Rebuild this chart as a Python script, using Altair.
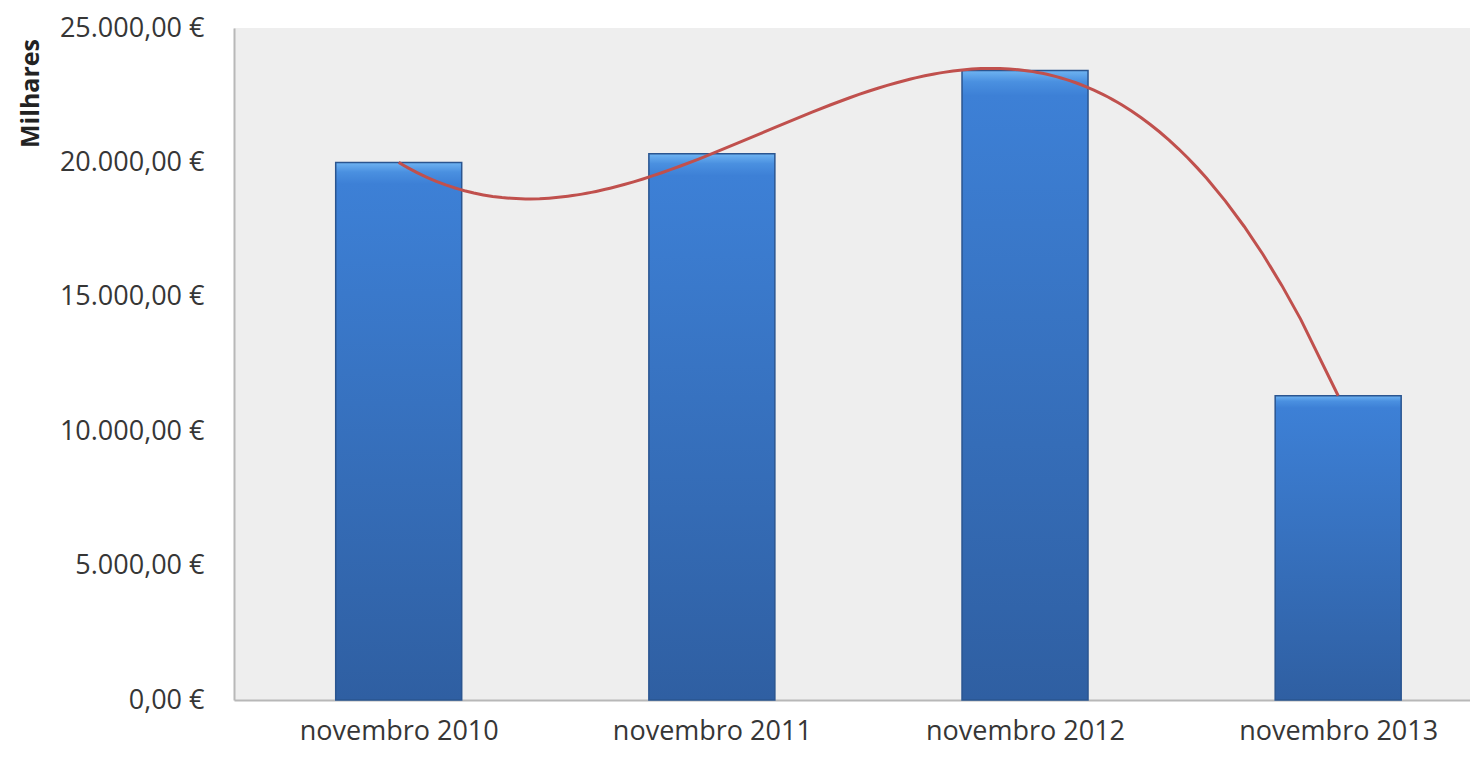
import altair as alt
import pandas as pd

categories = ["novembro 2010", "novembro 2011", "novembro 2012", "novembro 2013"]
values = [20000, 20320, 23420, 11320]
y_ticks = [0, 5000, 10000, 15000, 20000, 25000]

df = pd.DataFrame({"idx": list(range(len(categories))), "cat": categories, "valor": values})

label_expr = " : ".join(
    [f"datum.value == {i} ? '{c}'" for i, c in enumerate(categories)] + ["''"]
)
y_label_expr = ("replace(replace(replace(format(datum.value, ',.2f'), ',', '#'), '.', ','), '#', '.') + ' €'")

FONT = "Open Sans"
FS = 27

x = alt.X(
    "idx:Q",
    scale=alt.Scale(domain=[-0.51, 3.405], nice=False, zero=False),
    axis=alt.Axis(
        values=list(range(len(categories))),
        labelExpr=label_expr,
        title=None,
        ticks=False,
        grid=False,
        labelFont=FONT,
        labelFontSize=FS,
        labelColor="#363636",
        labelPadding=18,
        labelLimit=400,
        domainColor="#b8b8b8",
        domainWidth=2,
        labelFlush=False,
    ),
)

y = alt.Y(
    "valor:Q",
    scale=alt.Scale(domain=[0, 25000], nice=False),
    axis=alt.Axis(
        values=y_ticks,
        labelExpr=y_label_expr,
        title="Milhares",
        titleFont=FONT,
        titleFontSize=25,
        titleFontWeight="bold",
        titleColor="#222222",
        titleAngle=-90,
        titleAlign="center",
        titleBaseline="middle",
        titleX=-204,
        titleY=65,
        ticks=False,
        grid=False,
        labelFont=FONT,
        labelFontSize=FS,
        labelColor="#363636",
        labelPadding=30,
        labelLimit=400,
        domainColor="#b8b8b8",
        domainWidth=2,
    ),
)

gradient = alt.LinearGradient(
    gradient="linear",
    x1=0, x2=0, y1=0, y2=1,
    stops=[
        alt.GradientStop(offset=0, color="#6fb4f2"),
        alt.GradientStop(offset=0.018, color="#4a90e0"),
        alt.GradientStop(offset=0.04, color="#3d80d6"),
        alt.GradientStop(offset=1, color="#2f5fa2"),
    ],
)

bars = alt.Chart(df).mark_bar(
    size=126, color=gradient, stroke="#2a5590", strokeWidth=1.5
).encode(x=x, y=y)

line = alt.Chart(df).transform_regression(
    "idx", "valor", method="poly", order=3
).mark_line(color="#c0504d", strokeWidth=3).encode(x=x, y=y)

chart = alt.layer(bars, line).properties(
    width=1236,
    height=672,
    padding={"left": 10, "top": 6, "right": 0, "bottom": 3},
    background="white",
).configure_view(fill="#eeeeee", stroke=None)

chart.save("out.html", embed_options={"renderer": "svg", "actions": False})
